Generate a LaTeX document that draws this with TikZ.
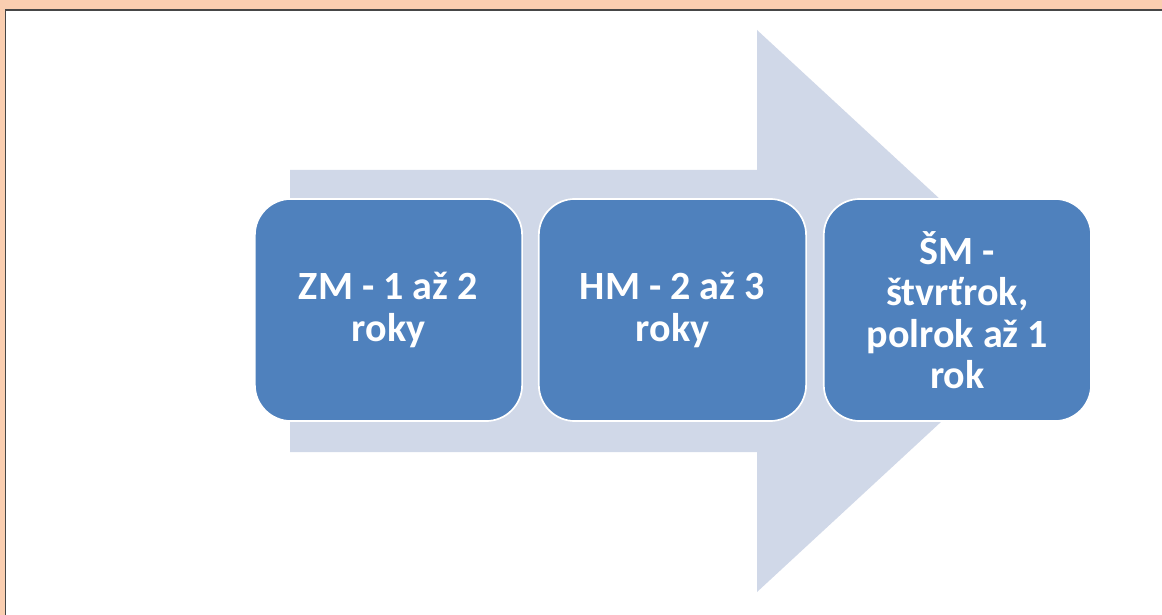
\documentclass[tikz,border=0pt]{standalone}
\usepackage{fontspec}
\setmainfont{Carlito}
\usetikzlibrary{positioning}
\definecolor{slideBg}{RGB}{250,206,176}
\definecolor{frameC}{RGB}{70,70,70}
\definecolor{arrowC}{RGB}{208,216,232}
\definecolor{boxB}{RGB}{79,129,189}

\tikzset{
  stage/.style={draw=white,line width=1.2pt,fill=boxB,rounded corners=0.9cm,
    minimum width=6.68cm,minimum height=5.55cm,align=center,text=white,
    font=\fontsize{28.5}{29.5}\selectfont\bfseries}
}

\begin{document}
\begin{tikzpicture}[x=0.025cm,y=-0.025cm]
\useasboundingbox (0,0) rectangle (1162,615);
% slide background and frame
\fill[slideBg] (0,0) rectangle (1162,615);
\fill[white] (6,10) rectangle (1162,615);
\draw[frameC,line width=1.4pt] (5.5,615) -- (5.5,10) -- (1162,10);
% big arrow behind the boxes
\fill[arrowC] (290,170) -- (757,170) -- (757,30) -- (1061,311)
  -- (757,592) -- (757,452) -- (290,452) -- cycle;
\node[stage] (zm) at (388.5,310) {ZM - 1 až 2\\roky};
\node[stage,right=0.375cm of zm] (hm) {HM - 2 až 3\\roky};
\node[stage,right=0.4cm of hm] (sm) {ŠM -\\štvrťrok,\\polrok až 1\\rok};
\end{tikzpicture}
\end{document}
